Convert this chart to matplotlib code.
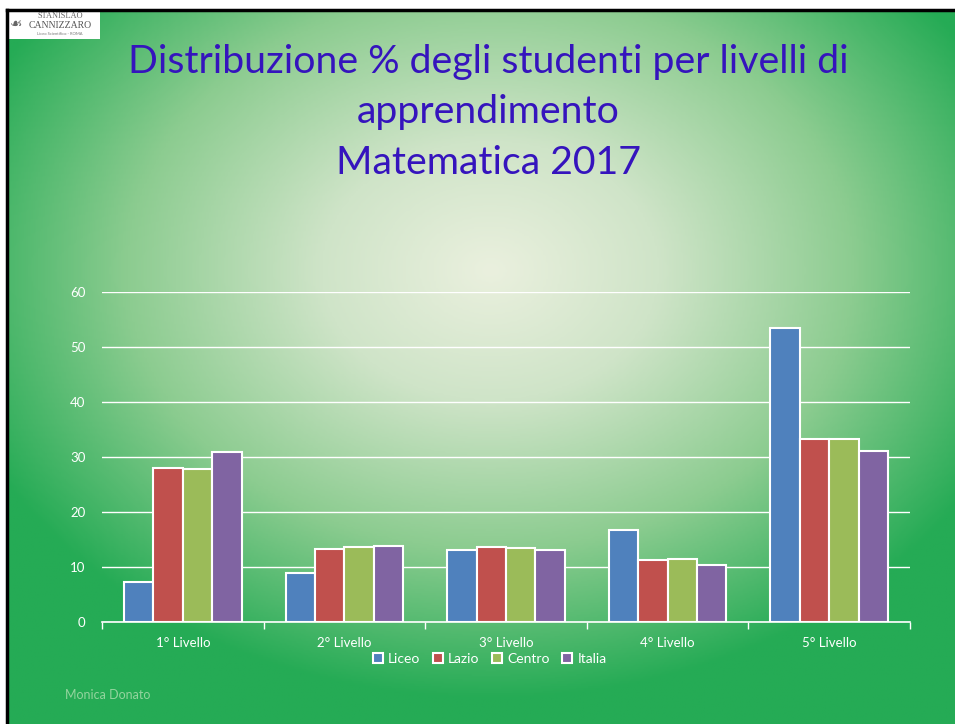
import numpy as np
import matplotlib
matplotlib.use("Agg")
import matplotlib.pyplot as plt
from matplotlib.colors import LinearSegmentedColormap
from matplotlib.patches import Rectangle

W, H = 955, 724

categories = ["1° Livello", "2° Livello", "3° Livello", "4° Livello", "5° Livello"]
series_names = ["Liceo", "Lazio", "Centro", "Italia"]
liceo = [7.3, 8.9, 13.1, 16.7, 53.5]
lazio = [28.0, 13.3, 13.6, 11.3, 33.3]
centro = [27.8, 13.6, 13.5, 11.5, 33.3]
italia = [30.9, 13.8, 13.1, 10.4, 31.1]
colors = ["#4f81bd", "#c0504d", "#9bbb59", "#8064a2"]
yticks = [0, 10, 20, 30, 40, 50, 60]

plt.rcParams["font.family"] = ["Lato", "DejaVu Sans"]

fig = plt.figure(figsize=(W / 100, H / 100), dpi=100, facecolor="white")

# slide background: radial gradient
bg = fig.add_axes([7 / W, 0, (W - 7) / W, (H - 10) / H])
bg.set_axis_off()
xs = np.linspace(7, W, 400)
ys = np.linspace(10, H, 300)
X, Y = np.meshgrid(xs, ys)
t = np.sqrt(((X - 490) / 560) ** 2 + ((Y - 270) / 430) ** 2)
t = np.clip(t, 0, 1)
cmap = LinearSegmentedColormap.from_list(
    "slide", [(0.0, "#eaf0de"), (0.3, "#cfe4c8"), (0.65, "#8ccc90"), (1.0, "#25ab55")])
bg.imshow(t, cmap=cmap, aspect="auto", extent=[0, 1, 0, 1], origin="upper")
bg.set_xlim(0, 1)
bg.set_ylim(0, 1)

# border lines
fig.add_artist(plt.Line2D([7 / W, 1], [1 - 10 / H, 1 - 10 / H], color="black", lw=2.5))
fig.add_artist(plt.Line2D([7 / W, 7 / W], [0, 1 - 10 / H], color="black", lw=2.5))

# logo box
fig.add_artist(Rectangle((8 / W, 1 - 39 / H), 92 / W, 28 / H, facecolor="white",
                         edgecolor="none", transform=fig.transFigure))
fig.text(60 / W, 1 - 16 / H, "STANISLAO", fontsize=6, color="#666666", ha="center", va="center",
         family="Liberation Serif")
fig.text(60 / W, 1 - 25 / H, "CANNIZZARO", fontsize=7, color="#555555", ha="center", va="center",
         family="Liberation Serif")
fig.text(60 / W, 1 - 34 / H, "Liceo Scientifico - ROMA", fontsize=3, color="#777777", ha="center",
         va="center")
fig.text(16 / W, 1 - 24 / H, "☙", fontsize=10, color="#666666", ha="center", va="center",
         family="DejaVu Sans")

# title
fig.text(488 / W, 1 - 112 / H, "Distribuzione % degli studenti per livelli di\napprendimento\nMatematica 2017",
         fontsize=28.3, color="#3514bd", ha="center", va="center", linespacing=1.5)

ax = fig.add_axes([102 / W, (H - 622) / H, 808 / W, 330 / H])
ax.patch.set_alpha(0)
x = np.arange(len(categories))
width = 0.182
for i, (vals, c) in enumerate(zip([liceo, lazio, centro, italia], colors)):
    ax.bar(x + (i - 1.5) * width, vals, width, color=c, edgecolor="white", linewidth=1.5,
           label=series_names[i], zorder=3)

ax.set_xlim(-0.5, len(categories) - 0.5)
ax.set_ylim(0, 60)
ax.set_yticks(yticks)
ax.grid(axis="y", color="white", linewidth=1, zorder=0)
for s in ["top", "right", "left"]:
    ax.spines[s].set_visible(False)
ax.spines["bottom"].set_color("white")
ax.spines["bottom"].set_linewidth(1.2)
ax.set_xticks(x)
ax.set_xticklabels(categories)
ax.set_xticks(np.arange(len(categories) + 1) - 0.5, minor=True)
ax.tick_params(axis="x", which="major", length=0, colors="white", labelsize=9.5, pad=11)
ax.tick_params(axis="x", which="minor", length=5, color="white", width=1)
ax.tick_params(axis="y", length=0, colors="white", labelsize=9.5, pad=12)

leg = ax.legend(loc="upper center", bbox_to_anchor=(0.48, -0.072), ncol=4, frameon=False,
                fontsize=10, handlelength=0.7, handleheight=0.7, handletextpad=0.4,
                columnspacing=0.9, labelcolor="white", borderpad=0)

fig.text(65 / W, 1 - 695 / H, "Monica Donato", fontsize=9, color="#93d49e", ha="left", va="center")

fig.savefig("out.png", dpi=100)
